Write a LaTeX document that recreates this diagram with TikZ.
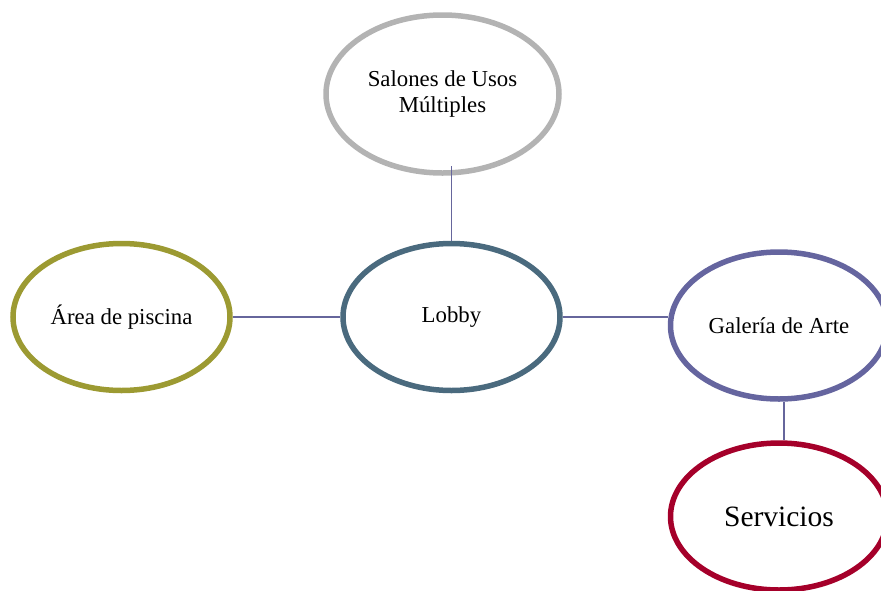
\documentclass[tikz,border=0pt]{standalone}
\usepackage{fontspec}
\setmainfont{Liberation Serif}
\usetikzlibrary{shapes.geometric}
\definecolor{cgray}{HTML}{B3B3B3}
\definecolor{cteal}{HTML}{4A6A7E}
\definecolor{colive}{HTML}{9C9A32}
\definecolor{cpurple}{HTML}{65659F}
\definecolor{cred}{HTML}{A5002A}
\definecolor{cline}{HTML}{66669C}
\tikzset{
  oval/.style={ellipse, draw, line width=5.5pt, minimum width=217pt, minimum height=147pt, inner sep=0pt, align=center, font=\fontsize{22.8}{26.5}\selectfont},
  conn/.style={draw=cline, line width=1.4pt}
}
\begin{document}
\begin{tikzpicture}[x=1pt,y=-1pt]
\useasboundingbox (0,0) rectangle (881,590);
\node[oval, draw=cgray, minimum width=233pt, minimum height=158pt] (sal) at (442.5,94) {\raisebox{-3pt}{\begin{tabular}{@{}c@{}}Salones de Usos\\Múltiples\end{tabular}}};
\node[oval, draw=cteal] (lob) at (451.5,317) {Lobby};
\node[oval, draw=colive] (pis) at (121.5,317) {Área de piscina};
\node[oval, draw=cpurple] (gal) at (779,325.5) {Galería de Arte};
\node[oval, draw=cred, font=\fontsize{29.5}{33}\selectfont] (ser) at (779,516.5) {Servicios};
\coordinate (salfoot) at (451.5,166);
\coordinate (galfoot) at (784,402);
\coordinate (sertop) at (784,440);
\draw[conn] (salfoot) -- (lob.north);
\draw[conn] (pis.east) -- (lob.west);
\draw[conn] (lob.east) -- (lob.east -| gal.west);
\draw[conn] (galfoot) -- (sertop);
\end{tikzpicture}
\end{document}
